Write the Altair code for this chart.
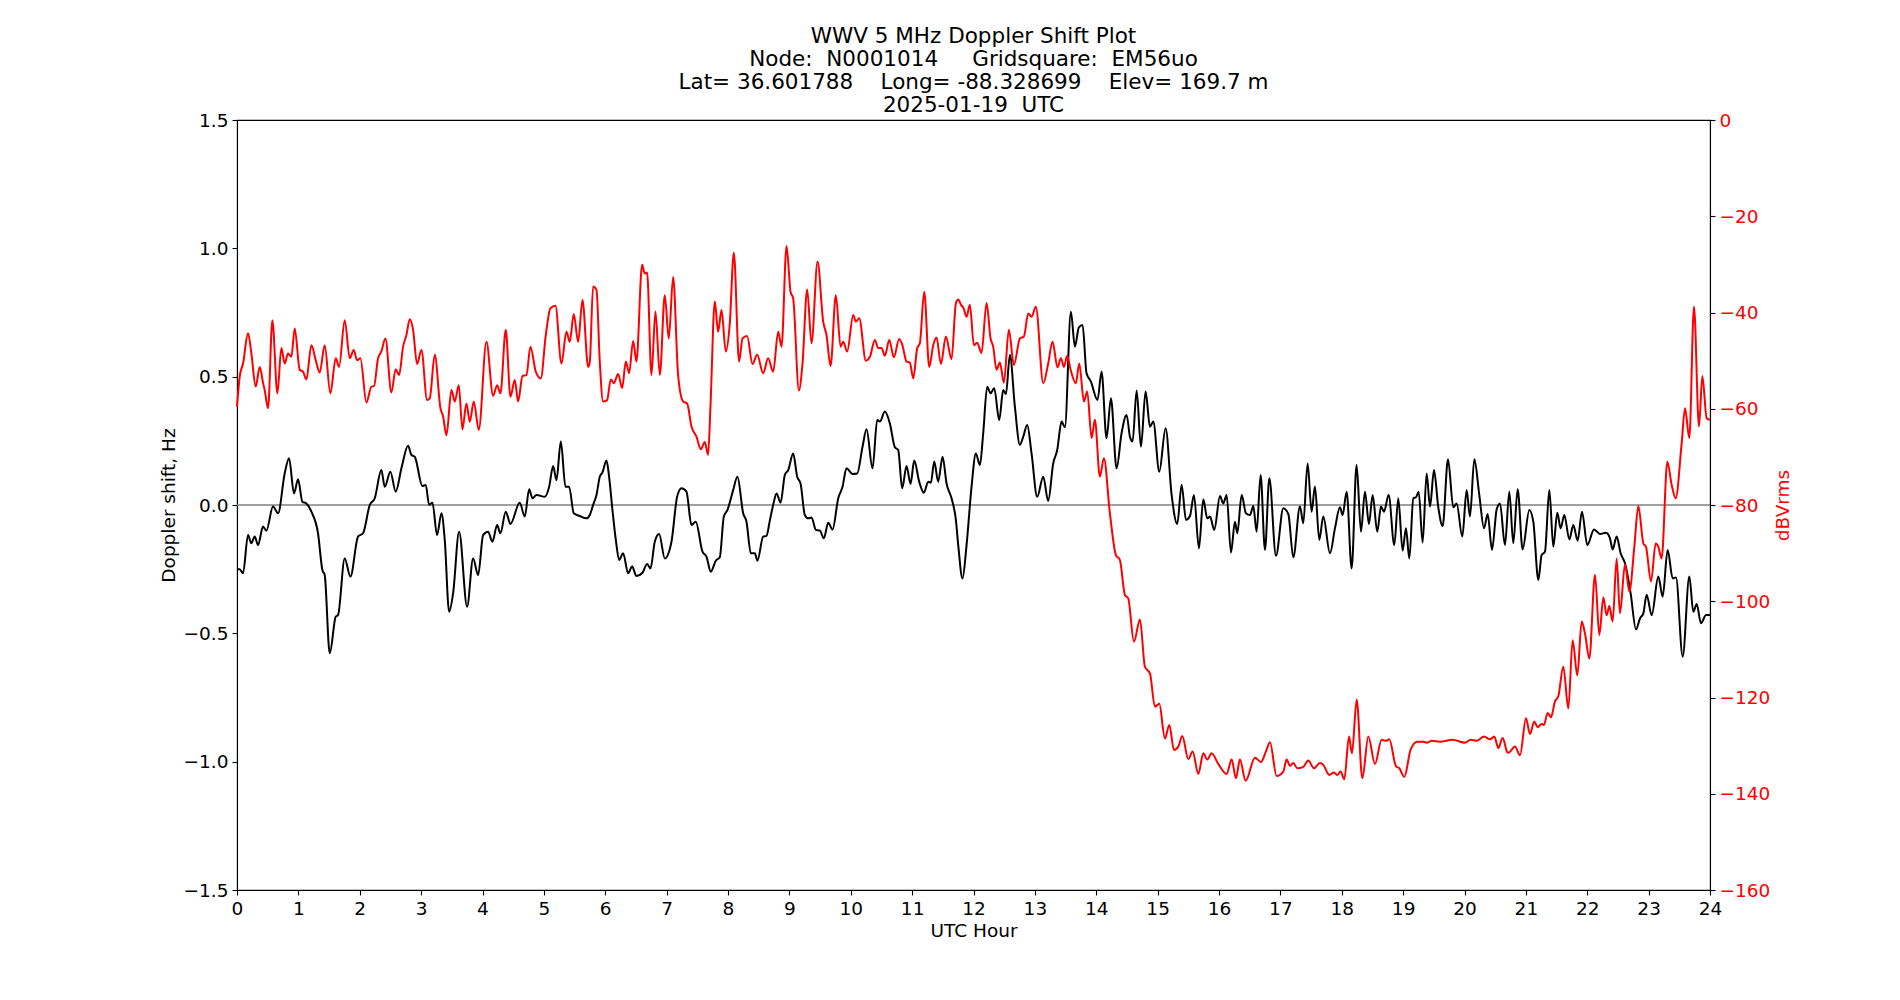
import altair as alt
import pandas as pd

# Doppler shift trace: (UTC hour, Hz)
DOPPLER = [
    (0.0, -0.25), (0.044, -0.25), (0.098, -0.266), (0.18, -0.117), (0.234, -0.149), (0.288, -0.123),
    (0.343, -0.156), (0.424, -0.084), (0.478, -0.10), (0.587, -0.006), (0.669, -0.032), (0.777, 0.123),
    (0.848, 0.182), (0.929, 0.045), (0.995, 0.10), (1.065, 0.013), (1.13, 0.006), (1.212, -0.026),
    (1.32, -0.11), (1.391, -0.253), (1.429, -0.273), (1.511, -0.578), (1.609, -0.435), (1.646, -0.429),
    (1.755, -0.208), (1.848, -0.279), (1.972, -0.123), (2.054, -0.11), (2.163, 0.0), (2.244, 0.026),
    (2.352, 0.136), (2.407, 0.071), (2.499, 0.13), (2.586, 0.052), (2.679, 0.143), (2.787, 0.231),
    (2.842, 0.195), (2.896, 0.188), (3.021, 0.074), (3.076, 0.078), (3.13, 0.0), (3.184, 0.009),
    (3.26, -0.117), (3.331, -0.032), (3.385, -0.136), (3.456, -0.416), (3.521, -0.344), (3.619, -0.104),
    (3.749, -0.396), (3.847, -0.208), (3.929, -0.273), (4.01, -0.117), (4.091, -0.104), (4.162, -0.143),
    (4.238, -0.078), (4.292, -0.11), (4.379, -0.026), (4.455, -0.074), (4.607, 0.009), (4.689, -0.045),
    (4.76, 0.061), (4.814, 0.026), (4.879, 0.039), (5.015, 0.032), (5.086, 0.071), (5.151, 0.152),
    (5.205, 0.097), (5.276, 0.247), (5.352, 0.071), (5.411, 0.071), (5.487, -0.032), (5.585, -0.043),
    (5.694, -0.052), (5.748, -0.039), (5.802, 0.0), (5.857, 0.039), (5.911, 0.11), (5.954, 0.127),
    (6.02, 0.173), (6.063, 0.11), (6.117, -0.019), (6.172, -0.136), (6.226, -0.214), (6.291, -0.188),
    (6.373, -0.266), (6.438, -0.24), (6.508, -0.277), (6.606, -0.264), (6.682, -0.23), (6.737, -0.247),
    (6.807, -0.143), (6.878, -0.113), (6.97, -0.208), (7.079, -0.143), (7.171, 0.032), (7.242, 0.065),
    (7.323, 0.052), (7.405, -0.078), (7.475, -0.065), (7.584, -0.182), (7.649, -0.201), (7.72, -0.26),
    (7.801, -0.217), (7.866, -0.204), (7.932, -0.045), (7.991, -0.019), (8.084, 0.058), (8.154, 0.11),
    (8.247, -0.032), (8.301, -0.065), (8.372, -0.188), (8.437, -0.188), (8.48, -0.217), (8.572, -0.123),
    (8.627, -0.12), (8.682, -0.06), (8.736, 0.0), (8.791, 0.045), (8.856, 0.009), (8.926, 0.117),
    (8.981, 0.136), (9.062, 0.201), (9.127, 0.11), (9.182, 0.084), (9.252, -0.039), (9.307, -0.052),
    (9.361, -0.049), (9.432, -0.097), (9.497, -0.1), (9.562, -0.13), (9.633, -0.069), (9.703, -0.095),
    (9.796, 0.026), (9.866, 0.071), (9.931, 0.143), (10.029, 0.121), (10.105, 0.123), (10.192, 0.227),
    (10.257, 0.295), (10.355, 0.143), (10.431, 0.331), (10.474, 0.325), (10.556, 0.364), (10.637, 0.318),
    (10.719, 0.225), (10.773, 0.214), (10.838, 0.065), (10.909, 0.152), (10.974, 0.082), (11.034, 0.173),
    (11.115, 0.091), (11.191, 0.048), (11.262, 0.091), (11.306, 0.087), (11.36, 0.169), (11.425, 0.091),
    (11.496, 0.188), (11.561, 0.084), (11.642, 0.026), (11.713, -0.058), (11.751, -0.156), (11.821, -0.286),
    (11.887, -0.156), (11.968, 0.071), (12.039, 0.201), (12.104, 0.156), (12.158, 0.279), (12.223, 0.461),
    (12.278, 0.435), (12.337, 0.455), (12.419, 0.331), (12.484, 0.448), (12.528, 0.432), (12.593, 0.584),
    (12.674, 0.383), (12.756, 0.234), (12.81, 0.266), (12.875, 0.312), (12.946, 0.201), (13.038, 0.032),
    (13.136, 0.11), (13.217, 0.016), (13.299, 0.162), (13.364, 0.214), (13.435, 0.325), (13.489, 0.303),
    (13.587, 0.753), (13.652, 0.617), (13.717, 0.692), (13.777, 0.701), (13.842, 0.513), (13.913, 0.481),
    (14.021, 0.409), (14.086, 0.52), (14.168, 0.26), (14.239, 0.416), (14.331, 0.143), (14.412, 0.279),
    (14.494, 0.351), (14.549, 0.266), (14.592, 0.247), (14.658, 0.446), (14.728, 0.227), (14.804, 0.442),
    (14.875, 0.305), (14.929, 0.325), (15.027, 0.13), (15.13, 0.299), (15.228, 0.039), (15.32, -0.074),
    (15.391, 0.078), (15.462, -0.058), (15.527, -0.043), (15.592, 0.039), (15.673, -0.169), (15.744, 0.022),
    (15.809, -0.052), (15.853, -0.045), (15.923, -0.097), (16.016, 0.035), (16.07, 0.006), (16.124, 0.039),
    (16.195, -0.185), (16.26, -0.065), (16.298, -0.11), (16.369, 0.039), (16.439, -0.032), (16.505, -0.039),
    (16.559, -0.004), (16.613, -0.104), (16.678, 0.117), (16.749, -0.175), (16.82, 0.104), (16.928, -0.198),
    (17.048, -0.013), (17.129, -0.035), (17.211, -0.204), (17.319, -0.006), (17.373, -0.071), (17.444, 0.162),
    (17.509, -0.026), (17.563, 0.072), (17.634, -0.136), (17.699, -0.045), (17.808, -0.188), (17.889, -0.091),
    (17.971, -0.009), (18.014, -0.039), (18.08, 0.052), (18.161, -0.247), (18.242, 0.156), (18.313, -0.104),
    (18.378, 0.052), (18.443, -0.074), (18.503, 0.039), (18.579, -0.104), (18.639, -0.006), (18.688, -0.026),
    (18.764, 0.039), (18.856, -0.156), (18.921, 0.026), (18.992, -0.178), (19.046, -0.091), (19.101, -0.208),
    (19.166, 0.026), (19.209, 0.03), (19.253, 0.052), (19.318, -0.147), (19.383, 0.123), (19.438, -0.006),
    (19.503, 0.136), (19.573, -0.009), (19.644, -0.082), (19.731, 0.178), (19.818, -0.009), (19.872, 0.006),
    (19.964, -0.123), (20.035, 0.058), (20.089, -0.045), (20.16, 0.178), (20.241, 0.039), (20.318, -0.091),
    (20.377, -0.035), (20.448, -0.175), (20.524, -0.017), (20.578, 0.006), (20.659, -0.156), (20.73, 0.052),
    (20.795, -0.149), (20.866, 0.061), (20.947, -0.173), (21.056, -0.019), (21.121, -0.065), (21.203, -0.292),
    (21.257, -0.195), (21.311, -0.182), (21.382, 0.058), (21.447, -0.162), (21.512, -0.03), (21.567, -0.091),
    (21.626, -0.039), (21.708, -0.134), (21.773, -0.078), (21.844, -0.139), (21.914, -0.026), (22.001, -0.156),
    (22.11, -0.095), (22.208, -0.113), (22.305, -0.108), (22.37, -0.13), (22.414, -0.173), (22.479, -0.123),
    (22.544, -0.188), (22.615, -0.227), (22.707, -0.344), (22.794, -0.485), (22.859, -0.442), (22.914, -0.422),
    (22.968, -0.35), (23.05, -0.429), (23.158, -0.279), (23.229, -0.357), (23.31, -0.175), (23.392, -0.286),
    (23.446, -0.282), (23.555, -0.591), (23.663, -0.279), (23.728, -0.416), (23.783, -0.386), (23.853, -0.461),
    (23.935, -0.429), (24.0, -0.429),
]

# Received signal level: (UTC hour, dBVrms)
SIGNAL = [
    (0.0, -59.6), (0.044, -53.3), (0.098, -50.6), (0.18, -44.3), (0.234, -48.5), (0.305, -55.4),
    (0.37, -51.3), (0.424, -54.6), (0.451, -56.1), (0.506, -59.9), (0.576, -41.6), (0.658, -56.8),
    (0.723, -47.4), (0.777, -50.6), (0.832, -48.5), (0.886, -49.2), (0.94, -43.3), (1.022, -51.9),
    (1.076, -52.3), (1.13, -53.9), (1.212, -46.8), (1.283, -49.9), (1.347, -52.5), (1.429, -46.8),
    (1.521, -56.8), (1.609, -49.5), (1.663, -51.3), (1.755, -41.6), (1.837, -49.5), (1.902, -47.8),
    (1.956, -49.9), (2.01, -49.5), (2.109, -58.7), (2.19, -55.4), (2.233, -55.3), (2.298, -49.5),
    (2.352, -48.1), (2.418, -45.4), (2.515, -56.6), (2.586, -51.8), (2.641, -53.0), (2.706, -47.1),
    (2.76, -44.7), (2.815, -41.4), (2.869, -43.6), (2.934, -50.7), (3.005, -47.8), (3.097, -58.2),
    (3.141, -57.8), (3.222, -48.8), (3.315, -59.9), (3.358, -61.6), (3.413, -65.5), (3.494, -56.1),
    (3.548, -58.5), (3.613, -55.1), (3.673, -64.3), (3.738, -58.9), (3.793, -62.7), (3.858, -58.5),
    (3.939, -64.4), (4.064, -46.1), (4.173, -57.3), (4.238, -55.1), (4.292, -56.8), (4.379, -43.6),
    (4.455, -57.5), (4.526, -54.0), (4.58, -58.5), (4.651, -53.2), (4.716, -53.0), (4.781, -47.1),
    (4.868, -52.3), (4.95, -53.7), (5.031, -44.7), (5.107, -39.1), (5.189, -38.6), (5.286, -50.6),
    (5.368, -44.0), (5.422, -46.1), (5.487, -40.3), (5.558, -46.1), (5.629, -37.4), (5.721, -51.3),
    (5.748, -50.3), (5.802, -34.6), (5.857, -35.3), (5.911, -50.3), (5.965, -58.5), (6.03, -58.2),
    (6.09, -53.9), (6.139, -54.7), (6.21, -52.8), (6.275, -55.7), (6.335, -50.2), (6.389, -52.6),
    (6.454, -45.9), (6.508, -50.2), (6.601, -30.1), (6.644, -31.9), (6.682, -31.7), (6.753, -53.0),
    (6.818, -39.8), (6.889, -53.0), (6.97, -36.4), (7.035, -45.4), (7.106, -32.6), (7.187, -53.0),
    (7.269, -58.5), (7.334, -58.9), (7.405, -63.7), (7.486, -65.8), (7.557, -68.4), (7.622, -66.9),
    (7.676, -69.6), (7.714, -59.6), (7.785, -37.7), (7.839, -44.0), (7.894, -39.5), (7.964, -48.1),
    (8.029, -42.3), (8.095, -27.6), (8.181, -50.2), (8.236, -45.4), (8.312, -44.9), (8.399, -50.7),
    (8.475, -48.8), (8.573, -52.6), (8.654, -49.5), (8.736, -52.3), (8.818, -44.0), (8.872, -47.1),
    (8.954, -26.2), (9.019, -35.7), (9.062, -37.1), (9.155, -56.2), (9.214, -50.6), (9.29, -35.2),
    (9.361, -46.4), (9.459, -29.4), (9.551, -41.9), (9.605, -44.7), (9.671, -51.1), (9.757, -36.4),
    (9.834, -47.1), (9.877, -46.1), (9.942, -48.1), (10.04, -40.5), (10.083, -41.9), (10.138, -41.2),
    (10.246, -50.0), (10.312, -49.2), (10.393, -45.7), (10.447, -47.4), (10.502, -47.4), (10.556, -49.0),
    (10.627, -45.7), (10.702, -49.3), (10.789, -45.5), (10.844, -46.9), (10.909, -50.2), (10.963, -50.4),
    (11.018, -53.7), (11.083, -47.4), (11.126, -46.4), (11.197, -35.7), (11.279, -51.3), (11.344, -46.8),
    (11.398, -45.2), (11.469, -50.7), (11.55, -45.0), (11.642, -49.7), (11.713, -38.1), (11.751, -37.3),
    (11.805, -38.6), (11.832, -38.9), (11.887, -40.9), (11.941, -38.4), (12.006, -46.8), (12.06, -46.3),
    (12.131, -48.4), (12.213, -38.0), (12.278, -45.4), (12.321, -47.1), (12.375, -51.9), (12.43, -50.4),
    (12.495, -54.6), (12.576, -43.6), (12.658, -50.9), (12.756, -45.4), (12.821, -45.0), (12.892, -40.2),
    (12.946, -40.9), (13.016, -38.8), (13.136, -54.7), (13.217, -50.6), (13.288, -46.1), (13.369, -51.4),
    (13.424, -49.5), (13.473, -51.3), (13.527, -49.0), (13.582, -51.9), (13.668, -54.7), (13.723, -50.6),
    (13.799, -58.5), (13.853, -56.4), (13.924, -66.1), (13.978, -62.3), (14.059, -74.1), (14.125, -70.3),
    (14.222, -81.7), (14.32, -90.4), (14.385, -91.4), (14.467, -98.7), (14.521, -99.4), (14.614, -108.4),
    (14.712, -103.8), (14.793, -113.6), (14.875, -115.0), (14.956, -121.9), (15.027, -121.3), (15.119, -128.5),
    (15.19, -125.7), (15.266, -130.9), (15.337, -130.2), (15.402, -128.0), (15.5, -132.8), (15.57, -131.2),
    (15.663, -135.9), (15.744, -131.6), (15.809, -132.9), (15.88, -131.6), (15.988, -133.8), (16.124, -135.9),
    (16.206, -132.9), (16.276, -136.8), (16.341, -132.9), (16.434, -137.3), (16.586, -132.5), (16.684, -133.4),
    (16.765, -131.2), (16.83, -129.3), (16.939, -136.3), (17.048, -135.4), (17.102, -132.9), (17.156, -134.2),
    (17.21, -133.6), (17.276, -134.7), (17.373, -134.4), (17.455, -133.1), (17.547, -134.7), (17.645, -133.6),
    (17.699, -134.0), (17.797, -136.1), (17.873, -135.6), (17.928, -136.1), (17.982, -135.4), (18.042, -137.0),
    (18.118, -128.1), (18.167, -131.6), (18.243, -120.4), (18.335, -136.8), (18.433, -128.1), (18.541, -133.8),
    (18.65, -128.8), (18.721, -129.0), (18.775, -128.7), (18.884, -134.3), (18.938, -134.7), (19.019, -136.5),
    (19.123, -130.8), (19.231, -129.2), (19.329, -129.2), (19.394, -129.4), (19.465, -129.0), (19.6, -129.2),
    (19.807, -128.8), (20.008, -129.4), (20.1, -128.8), (20.198, -129.0), (20.318, -128.1), (20.415, -128.7),
    (20.486, -128.1), (20.551, -130.5), (20.622, -128.4), (20.698, -131.4), (20.714, -131.5), (20.822, -130.2),
    (20.904, -132.0), (21.002, -124.3), (21.067, -127.6), (21.137, -125.0), (21.192, -126.2), (21.257, -125.5),
    (21.295, -125.7), (21.355, -123.2), (21.409, -124.1), (21.474, -120.8), (21.529, -119.7), (21.61, -113.6),
    (21.692, -122.3), (21.762, -108.1), (21.838, -115.4), (21.909, -104.2), (21.963, -106.7), (22.034, -111.9),
    (22.126, -94.5), (22.197, -107.0), (22.262, -99.2), (22.316, -102.9), (22.36, -101.0), (22.414, -104.2),
    (22.479, -91.1), (22.533, -102.5), (22.615, -92.3), (22.686, -98.0), (22.767, -88.7), (22.832, -80.2),
    (22.914, -88.0), (22.957, -88.7), (23.039, -95.9), (23.115, -88.0), (23.158, -88.7), (23.212, -91.1),
    (23.305, -71.0), (23.375, -75.8), (23.441, -78.6), (23.538, -67.2), (23.593, -59.9), (23.663, -66.1),
    (23.739, -38.8), (23.821, -63.7), (23.875, -53.2), (23.946, -62.0), (24.0, -62.3),
]

HOUR_TICKS = list(range(0, 25))
HZ_TICKS = [-1.5, -1.0, -0.5, 0.0, 0.5, 1.0, 1.5]
DB_TICKS = list(range(0, -161, -20))

NB = "\u00a0"
TITLE_LINES = [
    "WWV 5 MHz Doppler Shift Plot",
    f"Node:{NB*2}N0001014{NB*5}Gridsquare:{NB*2}EM56uo",
    f"Lat={NB}36.601788{NB*4}Long={NB}-88.328699{NB*4}Elev={NB}169.7 m",
    f"2025-01-19{NB*2}UTC",
]

FONT = "DejaVu Sans"
LABEL_SIZE = 18.5

doppler_df = pd.DataFrame(DOPPLER, columns=["hour", "hz"])
signal_df = pd.DataFrame(SIGNAL, columns=["hour", "db"])
zero_df = pd.DataFrame({"hz": [0.0]})

x_enc = alt.X(
    "hour:Q",
    scale=alt.Scale(domain=[0, 24], nice=False, zero=False),
    axis=alt.Axis(values=HOUR_TICKS, format="d", title="UTC Hour", labelFlush=False),
)

hz_scale = alt.Scale(domain=[-1.5, 1.5], nice=False)
hz_axis = alt.Axis(values=HZ_TICKS, format=".1f", title="Doppler shift, Hz", titlePadding=5)

zero_line = alt.Chart(zero_df).mark_rule(color="#808080", strokeWidth=1.5).encode(
    y=alt.Y("hz:Q", scale=hz_scale, axis=hz_axis)
)

doppler_line = alt.Chart(doppler_df).mark_line(
    color="black", strokeWidth=2, interpolate="monotone"
).encode(x=x_enc, y=alt.Y("hz:Q", scale=hz_scale, axis=hz_axis))

signal_line = alt.Chart(signal_df).mark_line(
    color="red", strokeWidth=2, interpolate="monotone"
).encode(
    x=x_enc,
    y=alt.Y(
        "db:Q",
        scale=alt.Scale(domain=[-160, 0], nice=False),
        axis=alt.Axis(
            orient="right", values=DB_TICKS, format="d", title="dBVrms",
            labelColor="red", titleColor="red", titleAngle=270,
            titleBaseline="top", titlePadding=4,
        ),
    ),
)

chart = (
    alt.layer(alt.layer(zero_line, doppler_line), signal_line)
    .resolve_scale(y="independent")
    .properties(
        width=1473,
        height=770,
        padding={"left": 237, "top": 120, "right": 190, "bottom": 110},
        autosize=alt.AutoSizeParams(type="none"),
        title=alt.TitleParams(
            text=TITLE_LINES, font=FONT, fontSize=21.5, fontWeight="normal",
            color="black", anchor="middle", lineHeight=23, offset=-5,
        ),
    )
    .configure(font=FONT, background="white")
    .configure_view(stroke="black", strokeWidth=1.1)
    .configure_axis(
        grid=False,
        domainColor="black", domainWidth=1.1,
        tickColor="black", tickWidth=1.1, tickSize=5,
        labelFont=FONT, labelFontSize=LABEL_SIZE, labelColor="black", labelPadding=4,
        titleFont=FONT, titleFontSize=LABEL_SIZE, titleFontWeight="normal", titleColor="black",
    )
)

chart.save("out.html", embed_options={"renderer": "svg", "actions": False})
